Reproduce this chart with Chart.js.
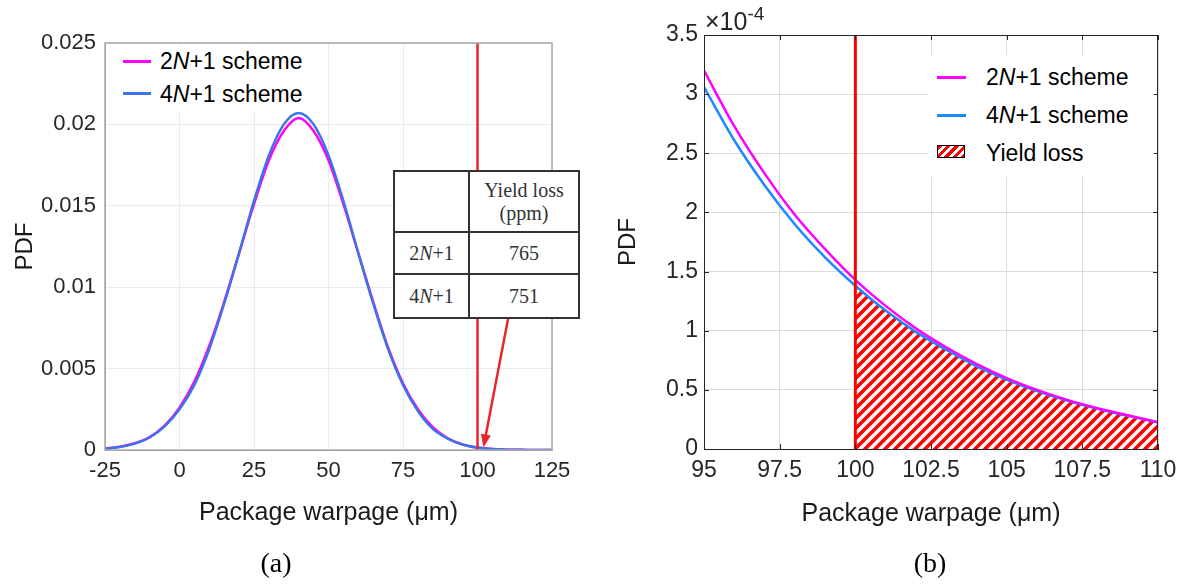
<!DOCTYPE html>
<html lang="en">
<head>
<meta charset="UTF-8">
<title>Package warpage PDF</title>
<script src="https://cdn.jsdelivr.net/npm/chart.js"></script>
<style>
    body {
        margin: 0;
        width: 1188px;
        height: 587px;
        position: relative;
        overflow: hidden;
        background: #fff;
        font-family: "Liberation Sans", Arial, sans-serif;
        color: #000;
    }
    canvas { position: absolute; top: 0; }
    #chartA { left: 0; }
    #chartB { left: 594px; }
    .box { position: absolute; background: #fff; }
    .txt { position: absolute; font-size: 23px; line-height: 26px; white-space: nowrap; }
    .sw { position: absolute; height: 3px; width: 28px; }
    .hatch {
        position: absolute;
        border: 1.5px solid #000;
        background: repeating-linear-gradient(135deg, #ff0000 0 3px, #fff 3px 6px);
    }
    #yieldTable {
        position: absolute;
        left: 393px;
        top: 170px;
        border-collapse: collapse;
        background: #fff;
        font-family: "Liberation Serif", "Times New Roman", serif;
        font-size: 20px;
        color: #333;
    }
    #yieldTable td {
        border: 2px solid #333;
        text-align: center;
        padding: 0;
        line-height: 23px;
    }
    .cap {
        position: absolute;
        top: 545px;
        font-family: "Liberation Serif", "Times New Roman", serif;
        font-size: 28px;
        line-height: 36px;
        transform: translateX(-50%);
    }
    #expo { position: absolute; left: 705px; top: 7px; font-size: 25px; line-height: 28px; color: #262626; }
    #expo sup { font-size: 19px; vertical-align: 0; position: relative; top: -10px; }
</style>
</head>
<body>
<canvas id="chartA" width="594" height="587"></canvas>
<canvas id="chartB" width="594" height="587"></canvas>

<!-- legend (a) -->
<div class="box" style="left:112px; top:46px; width:200px; height:66px;"></div>
<div class="sw" style="left:123px; top:60px; background:#ff00ff;"></div>
<div class="txt" style="left:160px; top:48px;">2<i>N</i>+1 scheme</div>
<div class="sw" style="left:123px; top:92px; background:#3b74e6;"></div>
<div class="txt" style="left:160px; top:81px;">4<i>N</i>+1 scheme</div>

<table id="yieldTable">
    <tr style="height:61px"><td style="width:73px"></td><td style="width:108px">Yield loss<br>(ppm)</td></tr>
    <tr style="height:42px"><td>2<i>N</i>+1</td><td id="v2n"></td></tr>
    <tr style="height:44px"><td>4<i>N</i>+1</td><td id="v4n"></td></tr>
</table>

<!-- legend (b) -->
<div class="box" style="left:928px; top:55px; width:226px; height:122px;"></div>
<div class="sw" style="left:937px; top:76px; width:29px; background:#ff00ff;"></div>
<div class="txt" style="left:986px; top:64px;">2<i>N</i>+1 scheme</div>
<div class="sw" style="left:937px; top:114px; width:29px; background:#1e88ff;"></div>
<div class="txt" style="left:986px; top:102px;">4<i>N</i>+1 scheme</div>
<div class="hatch" style="left:937px; top:145px; width:26px; height:11px;"></div>
<div class="txt" style="left:986px; top:140px;">Yield loss</div>

<div id="expo">&times;10<sup>-4</sup></div>
<div class="cap" style="left:276px;">(a)</div>
<div class="cap" style="left:930px;">(b)</div>

<script>
// ---- data (a): full distribution ----
const warpA = [-25, -20, -15, -10, -5, 0, 5, 10, 15, 20, 25, 30, 35, 40, 45, 50, 55, 60,
               65, 70, 75, 80, 85, 90, 95, 100, 105, 110, 115, 120, 125];
const pdfA2N = [0.00009, 0.0002, 0.00042, 0.0008, 0.0015, 0.0026, 0.0042, 0.0064, 0.0091, 0.0121,
                0.0151, 0.0178, 0.0196, 0.0204, 0.0196, 0.0178, 0.0151, 0.0121, 0.0091, 0.0063,
                0.0041, 0.0025, 0.0014, 0.00072, 0.00034, 0.00015, 0.00006, 0.00002, 0.00001, 0, 0];
const pdfA4N = [0.00008, 0.00018, 0.00039, 0.00077, 0.00145, 0.0025, 0.0040, 0.0062, 0.0090, 0.0121,
                0.0153, 0.0181, 0.0200, 0.0207, 0.0200, 0.0181, 0.0153, 0.0121, 0.0090, 0.0062,
                0.0040, 0.0024, 0.0013, 0.0007, 0.00033, 0.00014, 0.00006, 0.00002, 0.00001, 0, 0];

// ---- data (b): tail, values in units of 1e-4 ----
const warpB = [95, 96, 97, 98, 99, 100, 101, 102, 103, 104, 105, 106, 107, 108, 109, 110];
const pdfB2N = [3.20, 2.73, 2.33, 1.98, 1.69, 1.43, 1.21, 1.02, 0.86, 0.72, 0.60, 0.50, 0.415, 0.345, 0.285, 0.225];
const pdfB4N = [3.06, 2.61, 2.23, 1.90, 1.62, 1.38, 1.17, 0.99, 0.84, 0.70, 0.586, 0.49, 0.41, 0.34, 0.28, 0.225];

const limit = 100;                     // warpage spec limit
const yieldLoss = { '2N+1': 765, '4N+1': 751 };   // ppm
const arrowFrom = [110.3, 0.0081];    // table -> tail, data units of (a)
const arrowTo = [102, 0.00016];

document.getElementById('v2n').textContent = yieldLoss['2N+1'];
document.getElementById('v4n').textContent = yieldLoss['4N+1'];

Chart.defaults.font.family = '"Liberation Sans", Arial, sans-serif';

const pts = (xs, ys) => xs.map((x, i) => ({ x: x, y: ys[i] }));

// hatch pattern for the yield-loss area
const pc = document.createElement('canvas');
pc.width = 10; pc.height = 10;
const p = pc.getContext('2d');
p.fillStyle = '#fff';
p.fillRect(0, 0, 10, 10);
p.strokeStyle = '#ff0000';
p.lineWidth = 3.5;
[[-5, 5, 5, -5], [0, 10, 10, 0], [5, 15, 15, 5]].forEach(l => {
    p.beginPath(); p.moveTo(l[0], l[1]); p.lineTo(l[2], l[3]); p.stroke();
});
const hatch = p.createPattern(pc, 'repeat');

const frameA = {
    id: 'frameA',
    afterDatasetsDraw(chart) {
        const { ctx, chartArea: a, scales: { x, y } } = chart;
        ctx.save();
        ctx.strokeStyle = '#a8a8a8';
        ctx.lineWidth = 1.5;
        ctx.strokeRect(a.left, a.top, a.right - a.left, a.bottom - a.top);
        // arrow from table to the tail
        const x0 = x.getPixelForValue(arrowFrom[0]), y0 = y.getPixelForValue(arrowFrom[1]);
        const x1 = x.getPixelForValue(arrowTo[0]), y1 = y.getPixelForValue(arrowTo[1]);
        const ang = Math.atan2(y1 - y0, x1 - x0);
        ctx.strokeStyle = '#e8262a';
        ctx.fillStyle = '#e8262a';
        ctx.lineWidth = 2.5;
        ctx.beginPath();
        ctx.moveTo(x0, y0);
        ctx.lineTo(x1 - 10 * Math.cos(ang), y1 - 10 * Math.sin(ang));
        ctx.stroke();
        ctx.beginPath();
        ctx.moveTo(x1, y1);
        ctx.lineTo(x1 - 13 * Math.cos(ang) + 5 * Math.sin(ang), y1 - 13 * Math.sin(ang) - 5 * Math.cos(ang));
        ctx.lineTo(x1 - 13 * Math.cos(ang) - 5 * Math.sin(ang), y1 - 13 * Math.sin(ang) + 5 * Math.cos(ang));
        ctx.closePath();
        ctx.fill();
        ctx.restore();
    }
};

const frameB = {
    id: 'frameB',
    afterDraw(chart) {
        const { ctx, chartArea: a, scales: { x, y } } = chart;
        ctx.save();
        ctx.strokeStyle = '#262626';
        ctx.lineWidth = 1;
        ctx.strokeRect(a.left + 0.5, a.top + 0.5, a.right - a.left - 1, a.bottom - a.top);
        ctx.beginPath();
        x.ticks.forEach(t => {
            const px = Math.round(x.getPixelForValue(t.value)) + 0.5;
            ctx.moveTo(px, a.bottom); ctx.lineTo(px, a.bottom - 5);
            ctx.moveTo(px, a.top); ctx.lineTo(px, a.top + 5);
        });
        y.ticks.forEach(t => {
            const py = Math.round(y.getPixelForValue(t.value)) + 0.5;
            ctx.moveTo(a.left, py); ctx.lineTo(a.left + 5, py);
            ctx.moveTo(a.right, py); ctx.lineTo(a.right - 5, py);
        });
        ctx.stroke();
        ctx.restore();
    }
};

new Chart(document.getElementById('chartA'), {
    type: 'line',
    data: {
        datasets: [
            { label: 'limit', data: [{ x: limit, y: 0 }, { x: limit, y: 0.025 }],
              borderColor: '#e8262a', borderWidth: 2.5, pointRadius: 0 },
            { label: '4N+1 scheme', data: pts(warpA, pdfA4N),
              borderColor: '#3b74e6', borderWidth: 2.5, pointRadius: 0, cubicInterpolationMode: 'monotone' },
            { label: '2N+1 scheme', data: pts(warpA, pdfA2N),
              borderColor: '#ff00ff', borderWidth: 2.5, pointRadius: 0, cubicInterpolationMode: 'monotone' }
        ]
    },
    options: {
        responsive: false,
        animation: false,
        layout: { padding: { top: 43, right: 42, bottom: 59, left: 0 } },
        plugins: { legend: { display: false }, tooltip: { enabled: false } },
        scales: {
            x: {
                type: 'linear', min: -25, max: 125,
                ticks: { stepSize: 25, padding: 8, color: '#262626', font: { size: 22 } },
                grid: { color: '#ebebeb', drawTicks: false },
                border: { color: '#a8a8a8' },
                title: { display: true, text: 'Package warpage (μm)', color: '#1a1a1a', font: { size: 25 }, padding: 0 },
                afterFit: s => { s.height = 78; }
            },
            y: {
                min: 0, max: 0.025,
                ticks: { stepSize: 0.005, padding: 9, color: '#262626', font: { size: 22 },
                         callback: v => String(+v.toFixed(3)) },
                grid: { color: '#ebebeb', drawTicks: false },
                border: { color: '#a8a8a8' },
                title: { display: true, text: 'PDF', color: '#1a1a1a', font: { size: 24 }, padding: { top: 11, bottom: 0 } },
                afterFit: s => { s.width = 105; }
            }
        }
    },
    plugins: [frameA]
});

new Chart(document.getElementById('chartB'), {
    type: 'line',
    data: {
        datasets: [
            { label: 'limit', data: [{ x: limit, y: 0 }, { x: limit, y: 3.5 }],
              borderColor: '#ff0000', borderWidth: 3, pointRadius: 0 },
            { label: '2N+1 scheme', data: pts(warpB, pdfB2N),
              borderColor: '#ff00ff', borderWidth: 2.5, pointRadius: 0, cubicInterpolationMode: 'monotone' },
            { label: '4N+1 scheme', data: pts(warpB, pdfB4N),
              borderColor: '#1e88ff', borderWidth: 2.5, pointRadius: 0, cubicInterpolationMode: 'monotone' },
            { label: 'Yield loss',
              data: pts(warpB, pdfB4N).filter(d => d.x >= limit),
              borderWidth: 0, pointRadius: 0, fill: 'origin', backgroundColor: hatch,
              cubicInterpolationMode: 'monotone' }
        ]
    },
    options: {
        responsive: false,
        animation: false,
        layout: { padding: { top: 35, right: 30, bottom: 58, left: 0 } },
        plugins: { legend: { display: false }, tooltip: { enabled: false } },
        scales: {
            x: {
                type: 'linear', min: 95, max: 110,
                ticks: { stepSize: 2.5, padding: 8, color: '#262626', font: { size: 23 },
                         callback: v => String(+v.toFixed(1)) },
                grid: { color: '#dcdcdc', drawTicks: false },
                border: { color: '#262626' },
                title: { display: true, text: 'Package warpage (μm)', color: '#1a1a1a', font: { size: 25 }, padding: 0 },
                afterFit: s => { s.height = 80; }
            },
            y: {
                min: 0, max: 3.5,
                ticks: { stepSize: 0.5, padding: 6, color: '#262626', font: { size: 23 },
                         callback: v => String(+v.toFixed(1)) },
                grid: { color: '#dcdcdc', drawTicks: false },
                border: { color: '#262626' },
                title: { display: true, text: 'PDF', color: '#1a1a1a', font: { size: 24 }, padding: { top: 20, bottom: 0 } },
                afterFit: s => { s.width = 110; }
            }
        }
    },
    plugins: [frameB]
});
</script>
</body>
</html>
